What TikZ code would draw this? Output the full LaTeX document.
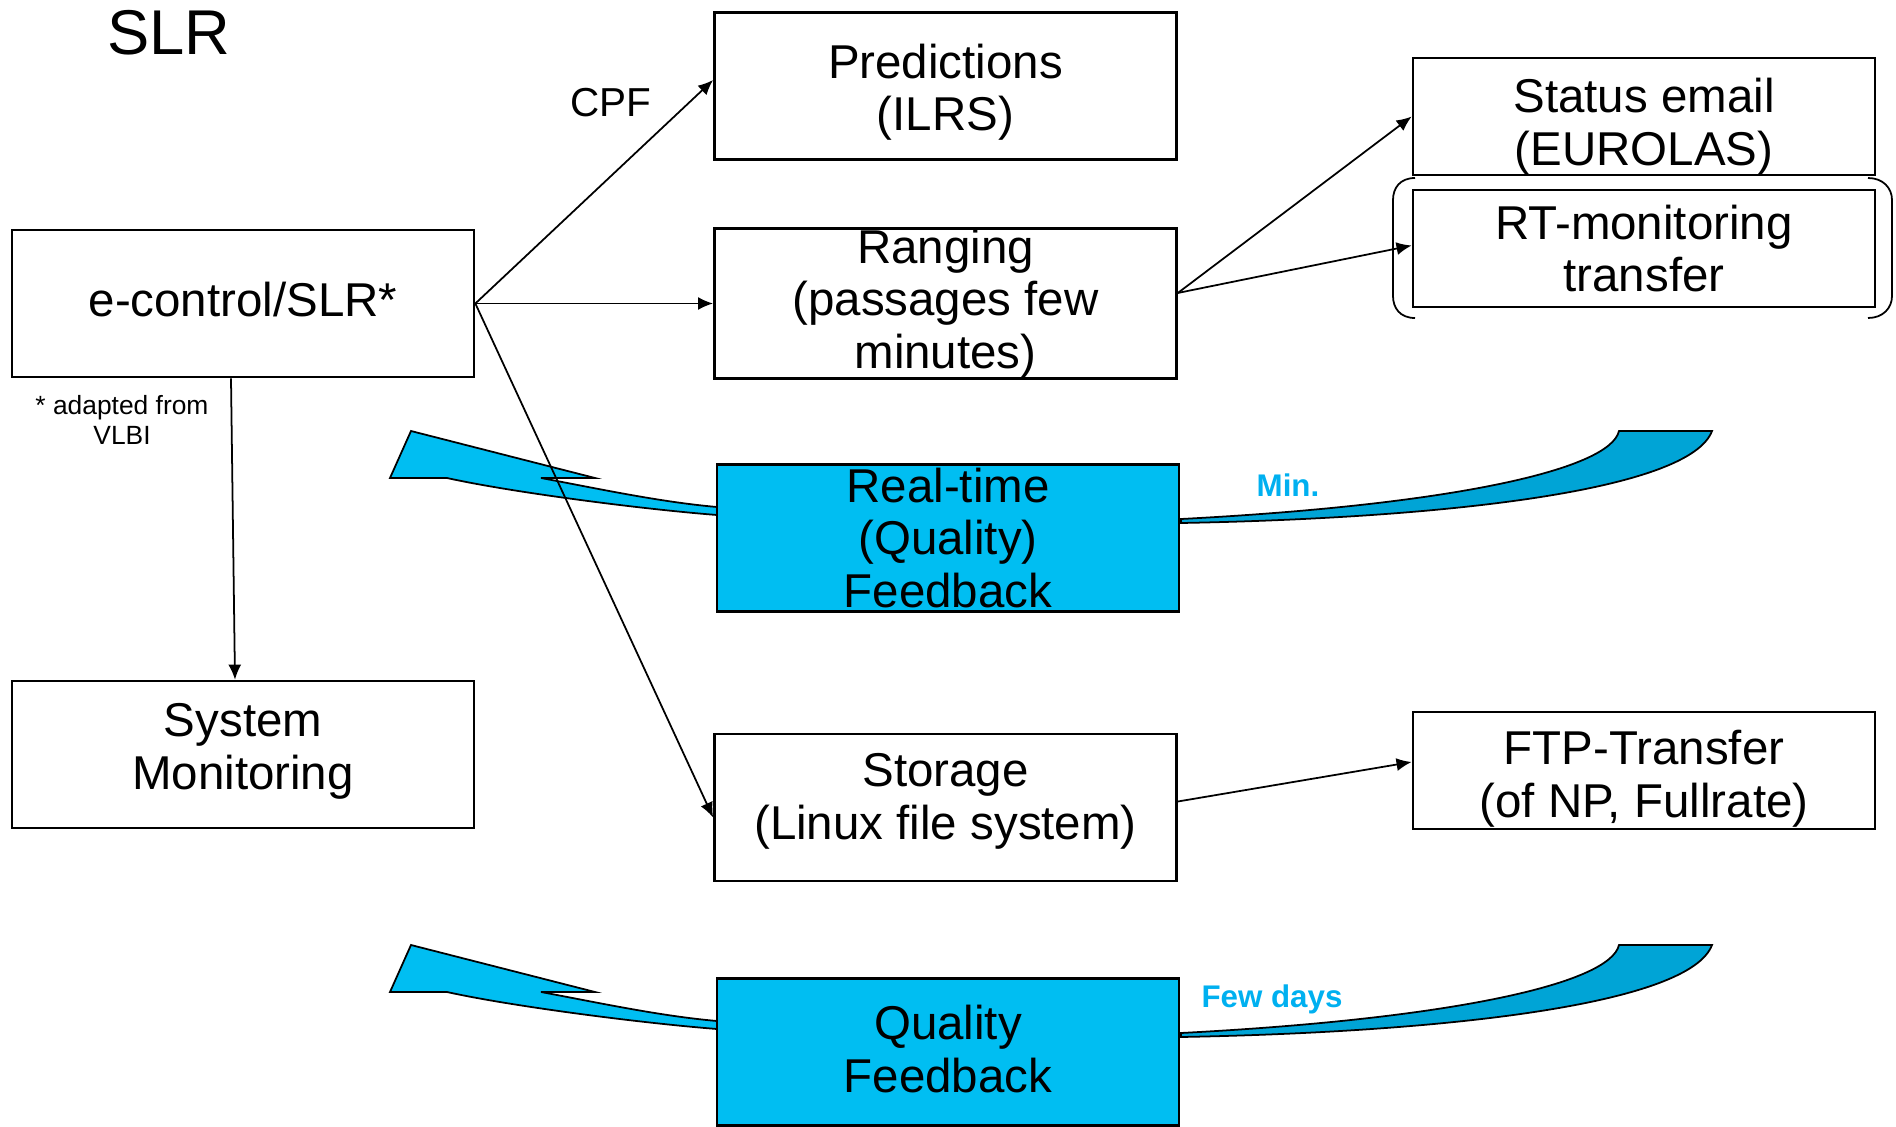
\documentclass[tikz,border=0pt]{standalone}
\usepackage{fontspec}
\setmainfont{Liberation Sans}
\usetikzlibrary{arrows.meta}
\definecolor{skyfill}{RGB}{0,190,242}
\definecolor{tailfill}{RGB}{0,164,214}
\definecolor{skytext}{RGB}{0,176,240}
\tikzset{
  box/.style={draw, line width=0.7pt, minimum width=4.62cm, minimum height=1.47cm,
    inner sep=0pt, align=center, font=\fontsize{13.5}{15}\selectfont},
  smallbox/.style={box, minimum height=1.17cm},
  fbbox/.style={box, fill=skyfill},
  texthigh/.style={execute at end node={\rule[-#1]{0pt}{0pt}}},
  link/.style={line width=0.5pt, -{Latex[length=4.3pt,width=3.7pt]}},
  tail/.style={draw, line width=0.5pt}
}

\begin{document}
\begin{tikzpicture}[x=0.01cm, y=-0.01cm]
  \useasboundingbox (0,0) rectangle (1896,1127);

  \foreach \dy/\lbl/\lx in {0/Min./1288, 514/Few days/1272}{
    \begin{scope}[shift={(0,\dy)}]
      \draw[tail, fill=skyfill] (411,431) -- (595,478) -- (541,478)
        .. controls (600,489) and (660,502) .. (717,507) -- (717,515)
        .. controls (640,509) and (510,492) .. (447,478) -- (390,478) -- cycle;
      \draw[tail, fill=tailfill] (1181,519) .. controls (1450,505) and (1610,470) .. (1619,431)
        -- (1712,431) .. controls (1690,490) and (1450,518) .. (1181,523) -- cycle;
      \node[text=skytext, font=\fontsize{8.9}{10}\selectfont\bfseries] (delay\dy) at (\lx,485) {\lbl};
    \end{scope}
  }

  \node[font=\fontsize{18}{21}\selectfont] (title) at (169,33) {SLR};

  \node[box, texthigh=2.3pt] (ectrl) at (243,303.5) {e-control/SLR*};
  \node[box, texthigh=4.8pt] (sysmon) at (243,754.5) {System\\Monitoring};
  \node[box] (pred) at (945.5,86) {\rule{0pt}{13.3pt}Predictions\\(ILRS)};
  \node[box] (rang) at (945.5,303.5) {Ranging\\(passages few\\minutes)};
  \node[fbbox] (rtfb) at (948,538) {Real-time\\(Quality)\\Feedback};
  \node[box, texthigh=6.2pt] (store) at (945.5,807.5) {Storage\\(Linux file system)};
  \node[fbbox, texthigh=2pt] (qfb) at (948,1052) {Quality\\Feedback};
  \node[smallbox] (email) at (1644,116.5) {\rule{0pt}{15.5pt}Status email\\(EUROLAS)};
  \node[smallbox] (rtmon) at (1644,248.5) {RT-monitoring\\transfer};
  \node[smallbox] (ftp) at (1644,770.5) {\rule{0pt}{14.5pt}FTP-Transfer\\(of NP, Fullrate)};

  \node[font=\fontsize{11.5}{13}\selectfont] (cpf) at (611,103) {CPF};
  \node[align=center, font=\fontsize{7.5}{8.5}\selectfont] (note) at (122,420) {* adapted from\\VLBI};

  \draw[line width=0.5pt] (1415,178) .. controls (1400,178) and (1393,188) .. (1393,200)
    -- (1393,296) .. controls (1393,308) and (1400,318) .. (1415,318);
  \draw[line width=0.5pt] (1868,178) .. controls (1883,178) and (1892,188) .. (1892,200)
    -- (1892,296) .. controls (1892,308) and (1883,318) .. (1868,318);

  \draw[link] (ectrl.east) -- ([yshift=0.06cm]pred.west);
  \draw[link] (ectrl.east) -- (rang.west);
  \draw[link] (ectrl.east) -- ([yshift=-0.1cm]store.west);
  \draw[link] ([xshift=-0.12cm]ectrl.south) -- ([xshift=-0.08cm]sysmon.north);
  \draw[link] ([yshift=3pt]rang.east) -- (email.west);
  \draw[link] ([yshift=3pt]rang.east) -- ([yshift=0.03cm]rtmon.west);
  \draw[link] ([yshift=0.06cm]store.east) -- ([yshift=0.085cm]ftp.west);
\end{tikzpicture}
\end{document}
